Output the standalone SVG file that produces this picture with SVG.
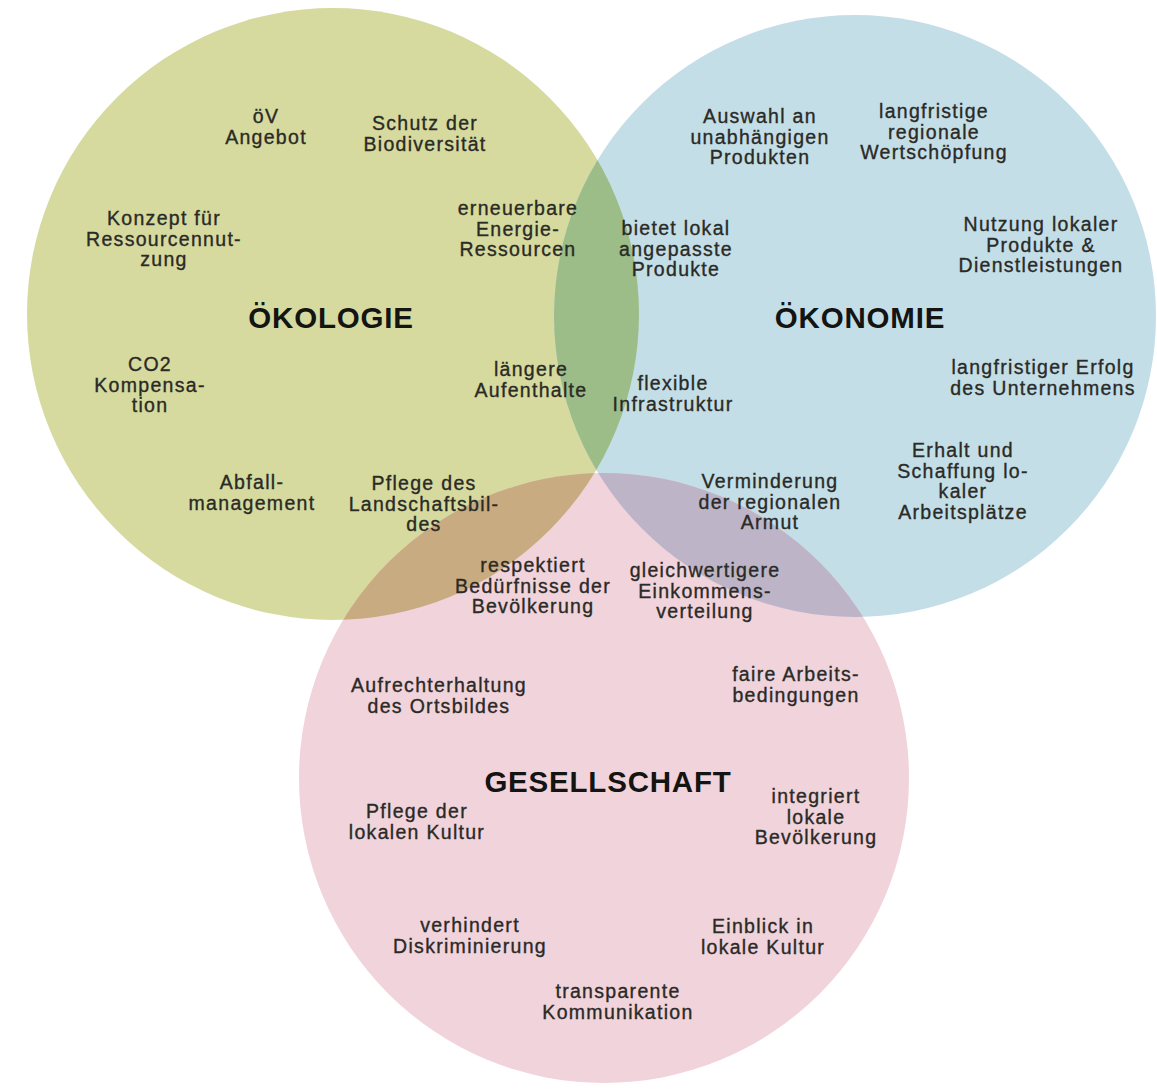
<svg xmlns="http://www.w3.org/2000/svg" width="1157" height="1089" viewBox="0 0 1157 1089">
<style>
.t{font-family:"Liberation Sans",Arial,Helvetica,sans-serif;font-size:19.5px;letter-spacing:1.3px;fill:#2a2a26;stroke:#2a2a26;stroke-width:0.35px;text-anchor:middle}
.h{font-family:"Liberation Sans",Arial,Helvetica,sans-serif;font-size:29.5px;font-weight:bold;letter-spacing:0.8px;fill:#141412;text-anchor:middle}
</style>
<defs>
<clipPath id="clipG"><circle cx="333" cy="314" r="306"/></clipPath>
<clipPath id="clipB"><circle cx="855" cy="316" r="301"/></clipPath>
<clipPath id="clipP"><circle cx="604" cy="778" r="305"/></clipPath>
</defs>
<rect width="1157" height="1089" fill="#ffffff"/>
<g id="circles">
<g id="oekologie-circle"><circle cx="333" cy="314" r="306" fill="#d6da9f"/></g>
<g id="oekonomie-circle"><circle cx="855" cy="316" r="301" fill="#c4dee7"/></g>
<g id="gesellschaft-circle"><circle cx="604" cy="778" r="305" fill="#f1d3db"/></g>
<g id="overlap-oek-oek"><circle cx="855" cy="316" r="301" fill="#9dbd88" clip-path="url(#clipG)"/></g>
<g id="overlap-oek-ges"><circle cx="604" cy="778" r="305" fill="#c8ab80" clip-path="url(#clipG)"/></g>
<g id="overlap-oekon-ges"><circle cx="604" cy="778" r="305" fill="#bdb4c7" clip-path="url(#clipB)"/></g>
<g id="overlap-all" clip-path="url(#clipG)"><circle cx="604" cy="778" r="305" fill="#a49c86" clip-path="url(#clipB)"/></g>
</g>
<g id="connectors"/>
<g id="headings">
<g id="h-oekologie"><text class="h" x="331" y="328">ÖKOLOGIE</text></g>
<g id="h-oekonomie"><text class="h" x="860" y="328">ÖKONOMIE</text></g>
<g id="h-gesellschaft"><text class="h" x="608" y="792">GESELLSCHAFT</text></g>
</g>
<g id="labels">
<g id="n-oev"><text class="t" x="266" y="123"><tspan x="266">öV</tspan><tspan x="266" dy="20.5">Angebot</tspan></text></g>
<g id="n-biodiv"><text class="t" x="425" y="130"><tspan x="425">Schutz der</tspan><tspan x="425" dy="20.5">Biodiversität</tspan></text></g>
<g id="n-konzept"><text class="t" x="164" y="225"><tspan x="164">Konzept für</tspan><tspan x="164" dy="20.5">Ressourcennut-</tspan><tspan x="164" dy="20.5">zung</tspan></text></g>
<g id="n-energie"><text class="t" x="518" y="215"><tspan x="518">erneuerbare</tspan><tspan x="518" dy="20.5">Energie-</tspan><tspan x="518" dy="20.5">Ressourcen</tspan></text></g>
<g id="n-co2"><text class="t" x="150" y="371"><tspan x="150">CO2</tspan><tspan x="150" dy="20.5">Kompensa-</tspan><tspan x="150" dy="20.5">tion</tspan></text></g>
<g id="n-laenger"><text class="t" x="531" y="376"><tspan x="531">längere</tspan><tspan x="531" dy="20.5">Aufenthalte</tspan></text></g>
<g id="n-abfall"><text class="t" x="252" y="489"><tspan x="252">Abfall-</tspan><tspan x="252" dy="20.5">management</tspan></text></g>
<g id="n-landschaft"><text class="t" x="424" y="490"><tspan x="424">Pflege des</tspan><tspan x="424" dy="20.5">Landschaftsbil-</tspan><tspan x="424" dy="20.5">des</tspan></text></g>
<g id="n-respekt"><text class="t" x="533" y="572"><tspan x="533">respektiert</tspan><tspan x="533" dy="20.5">Bedürfnisse der</tspan><tspan x="533" dy="20.5">Bevölkerung</tspan></text></g>
<g id="n-auswahl"><text class="t" x="760" y="123"><tspan x="760">Auswahl an</tspan><tspan x="760" dy="20.5">unabhängigen</tspan><tspan x="760" dy="20.5">Produkten</tspan></text></g>
<g id="n-wertschoepfung"><text class="t" x="934" y="118"><tspan x="934">langfristige</tspan><tspan x="934" dy="20.5">regionale</tspan><tspan x="934" dy="20.5">Wertschöpfung</tspan></text></g>
<g id="n-bietet"><text class="t" x="676" y="235"><tspan x="676">bietet lokal</tspan><tspan x="676" dy="20.5">angepasste</tspan><tspan x="676" dy="20.5">Produkte</tspan></text></g>
<g id="n-nutzung"><text class="t" x="1041" y="231"><tspan x="1041">Nutzung lokaler</tspan><tspan x="1041" dy="20.5">Produkte &amp;</tspan><tspan x="1041" dy="20.5">Dienstleistungen</tspan></text></g>
<g id="n-flexibel"><text class="t" x="673" y="390"><tspan x="673">flexible</tspan><tspan x="673" dy="20.5">Infrastruktur</tspan></text></g>
<g id="n-erfolg"><text class="t" x="1043" y="374"><tspan x="1043">langfristiger Erfolg</tspan><tspan x="1043" dy="20.5">des Unternehmens</tspan></text></g>
<g id="n-arbeitsplaetze"><text class="t" x="963" y="457"><tspan x="963">Erhalt und</tspan><tspan x="963" dy="20.5">Schaffung lo-</tspan><tspan x="963" dy="20.5">kaler</tspan><tspan x="963" dy="20.5">Arbeitsplätze</tspan></text></g>
<g id="n-armut"><text class="t" x="770" y="488"><tspan x="770">Verminderung</tspan><tspan x="770" dy="20.5">der regionalen</tspan><tspan x="770" dy="20.5">Armut</tspan></text></g>
<g id="n-einkommen"><text class="t" x="705" y="577"><tspan x="705">gleichwertigere</tspan><tspan x="705" dy="20.5">Einkommens-</tspan><tspan x="705" dy="20.5">verteilung</tspan></text></g>
<g id="n-ortsbild"><text class="t" x="439" y="692"><tspan x="439">Aufrechterhaltung</tspan><tspan x="439" dy="20.5">des Ortsbildes</tspan></text></g>
<g id="n-arbeitsbed"><text class="t" x="796" y="681"><tspan x="796">faire Arbeits-</tspan><tspan x="796" dy="20.5">bedingungen</tspan></text></g>
<g id="n-kultur"><text class="t" x="417" y="818"><tspan x="417">Pflege der</tspan><tspan x="417" dy="20.5">lokalen Kultur</tspan></text></g>
<g id="n-integriert"><text class="t" x="816" y="803"><tspan x="816">integriert</tspan><tspan x="816" dy="20.5">lokale</tspan><tspan x="816" dy="20.5">Bevölkerung</tspan></text></g>
<g id="n-diskriminierung"><text class="t" x="470" y="932"><tspan x="470">verhindert</tspan><tspan x="470" dy="20.5">Diskriminierung</tspan></text></g>
<g id="n-einblick"><text class="t" x="763" y="933"><tspan x="763">Einblick in</tspan><tspan x="763" dy="20.5">lokale Kultur</tspan></text></g>
<g id="n-kommunikation"><text class="t" x="618" y="998"><tspan x="618">transparente</tspan><tspan x="618" dy="20.5">Kommunikation</tspan></text></g>
</g>
</svg>
